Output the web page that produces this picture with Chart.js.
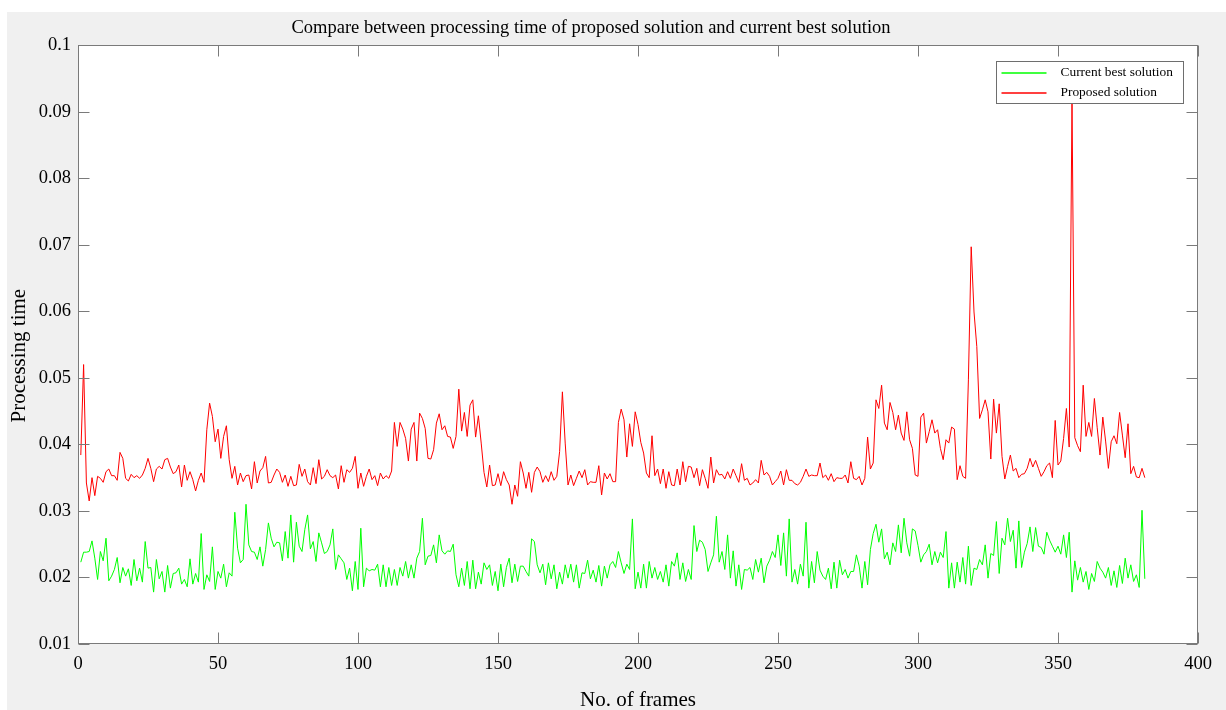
<!DOCTYPE html><html lang="en"><head><meta charset="UTF-8">
<title>Processing time</title>
<script src="https://cdn.jsdelivr.net/npm/chart.js"></script>
<style>
    body {
        margin: 0;
        background: #ffffff;
        overflow: hidden;
    }
    .wrap {
        width: 1226px;
        height: 710px;
        position: relative;
    }
</style>
</head>
<body>
<div class="wrap"><canvas id="chart"></canvas></div>
<script>
    // frame numbers 1..381
    const frames = Array.from({length: 381}, (_, i) => i + 1);

    const proposed = [
        0.0384,0.052,0.0342,0.0315,0.035,0.0323,0.0352,0.0349,0.0343,0.0359,
        0.0363,0.0353,0.0353,0.0346,0.0388,0.0379,0.0349,0.0345,0.0355,0.035,
        0.0353,0.0349,0.0354,0.0364,0.0379,0.0364,0.0344,0.0363,0.0367,0.0363,
        0.0377,0.0379,0.0366,0.0356,0.0359,0.0369,0.0336,0.0369,0.0346,0.0359,
        0.0347,0.033,0.0346,0.0357,0.0343,0.0422,0.0462,0.0442,0.0404,0.0423,
        0.0379,0.0412,0.0428,0.0377,0.0349,0.0367,0.0339,0.0357,0.0344,0.0353,
        0.0354,0.0333,0.0374,0.0342,0.036,0.0365,0.0382,0.0342,0.0343,0.0354,
        0.0363,0.0358,0.0343,0.0354,0.0337,0.0352,0.0338,0.0339,0.037,0.0352,
        0.0363,0.0344,0.0339,0.0365,0.0341,0.0377,0.0348,0.0352,0.0362,0.0353,
        0.035,0.0354,0.0333,0.0368,0.0343,0.0362,0.0358,0.0364,0.0382,0.0334,
        0.0357,0.0337,0.0352,0.0363,0.0347,0.0353,0.0338,0.0357,0.0348,0.0353,
        0.0349,0.036,0.0433,0.0397,0.0433,0.0423,0.0409,0.0375,0.0423,0.0433,
        0.0375,0.0447,0.0439,0.0424,0.0379,0.0378,0.0392,0.0432,0.0446,0.0422,
        0.0428,0.0412,0.0411,0.0394,0.0412,0.0483,0.042,0.0448,0.0412,0.0459,
        0.0467,0.0411,0.0443,0.0402,0.0358,0.0336,0.0369,0.0338,0.0339,0.0356,
        0.0338,0.0359,0.0347,0.0339,0.031,0.0339,0.0322,0.0374,0.0357,0.0334,
        0.0358,0.0328,0.0358,0.0366,0.0359,0.0343,0.0353,0.0344,0.0359,0.0346,
        0.0352,0.0389,0.0479,0.0402,0.0339,0.0354,0.0338,0.0349,0.036,0.035,
        0.0362,0.0339,0.0344,0.0343,0.0343,0.0368,0.0324,0.0357,0.0348,0.0356,
        0.0344,0.0344,0.0433,0.0453,0.0437,0.0381,0.0431,0.0397,0.0449,0.043,
        0.0403,0.0387,0.0357,0.035,0.0413,0.0353,0.0363,0.0341,0.0363,0.0334,
        0.0359,0.0339,0.0338,0.0363,0.0339,0.0374,0.0344,0.0367,0.0366,0.035,
        0.0364,0.0338,0.0362,0.0349,0.0334,0.0381,0.0342,0.0362,0.0354,0.0355,
        0.0348,0.0359,0.0349,0.0363,0.0353,0.0343,0.0371,0.0346,0.0349,0.0339,
        0.0342,0.0347,0.0342,0.0376,0.0354,0.0358,0.0352,0.0339,0.0344,0.0349,
        0.036,0.0339,0.0362,0.0346,0.0346,0.0341,0.0339,0.0343,0.0352,0.0363,
        0.0352,0.0354,0.0353,0.0353,0.0372,0.035,0.0354,0.0346,0.0356,0.0344,
        0.035,0.0349,0.0349,0.0354,0.0342,0.0374,0.0349,0.0347,0.0352,0.0339,
        0.0349,0.0411,0.0363,0.0372,0.0467,0.0454,0.0489,0.0432,0.0422,0.0463,
        0.0448,0.0422,0.0444,0.0417,0.0406,0.0449,0.0407,0.0394,0.0354,0.0352,
        0.0441,0.0447,0.0402,0.0419,0.0437,0.0417,0.0422,0.0394,0.0377,0.0407,
        0.0402,0.0426,0.0423,0.0347,0.0368,0.0352,0.0349,0.0497,0.0697,0.0599,
        0.0547,0.0439,0.0452,0.0467,0.0449,0.0378,0.0468,0.0417,0.0461,0.0382,
        0.0348,0.0367,0.0384,0.036,0.0364,0.035,0.0355,0.0356,0.0364,0.0379,
        0.0366,0.0376,0.0364,0.0352,0.0359,0.0368,0.0372,0.035,0.0436,0.0369,
        0.0375,0.0409,0.0454,0.0396,0.0917,0.041,0.0398,0.0389,0.0489,0.0412,
        0.0433,0.0412,0.0469,0.0425,0.0384,0.0441,0.0405,0.0364,0.0404,0.0413,
        0.0401,0.0448,0.0414,0.038,0.0431,0.0356,0.0367,0.0351,0.035,0.0364,0.035
    ];

    const currentBest = [
        0.0223,0.0238,0.0238,0.0239,0.0255,0.0229,0.0197,0.0239,0.0225,0.0259,
        0.0195,0.0202,0.0212,0.023,0.0192,0.0215,0.0202,0.0213,0.0188,0.0227,
        0.0195,0.0214,0.0193,0.0254,0.0214,0.0215,0.0178,0.0227,0.0198,0.0209,
        0.0178,0.0218,0.0184,0.0206,0.0207,0.0214,0.019,0.0197,0.0186,0.0228,
        0.019,0.0206,0.0193,0.0266,0.0182,0.0204,0.0194,0.0246,0.0182,0.0209,
        0.0199,0.022,0.0186,0.0207,0.0202,0.0298,0.0244,0.0222,0.0227,0.031,
        0.0249,0.0239,0.0238,0.0227,0.0246,0.0217,0.0242,0.0282,0.0259,0.0246,
        0.0253,0.0252,0.0225,0.0269,0.0229,0.0294,0.0223,0.0283,0.0247,0.0239,
        0.0272,0.0294,0.0243,0.0254,0.0224,0.0267,0.0252,0.0236,0.0239,0.0249,
        0.0273,0.0212,0.0234,0.0228,0.0222,0.0197,0.0214,0.018,0.0224,0.0182,
        0.0274,0.0186,0.0214,0.021,0.0212,0.0211,0.022,0.0186,0.0219,0.0186,
        0.0215,0.0188,0.0212,0.0188,0.0215,0.0202,0.0224,0.0199,0.0219,0.0199,
        0.0229,0.0239,0.0289,0.0219,0.0232,0.0233,0.0249,0.0222,0.0264,0.024,
        0.0235,0.024,0.0239,0.025,0.0204,0.0186,0.0214,0.0188,0.0224,0.0183,
        0.0226,0.0183,0.0208,0.019,0.0222,0.0212,0.0219,0.0188,0.0209,0.018,
        0.022,0.0186,0.0215,0.0229,0.0192,0.022,0.0194,0.0217,0.0217,0.0209,
        0.0202,0.0258,0.0254,0.0219,0.0207,0.022,0.0189,0.0222,0.0198,0.0219,
        0.0183,0.0208,0.019,0.0219,0.0199,0.022,0.0193,0.0219,0.0184,0.0207,
        0.0206,0.0226,0.0198,0.0211,0.0193,0.0218,0.0187,0.0217,0.0199,0.0219,
        0.0224,0.0215,0.0239,0.0222,0.0206,0.022,0.0212,0.0288,0.0183,0.0208,
        0.0184,0.022,0.0184,0.0224,0.0199,0.0215,0.0197,0.0209,0.0193,0.0219,
        0.0187,0.0224,0.0217,0.0237,0.0197,0.0222,0.0194,0.0212,0.0197,0.0278,
        0.0239,0.0256,0.0253,0.0242,0.0209,0.0222,0.0234,0.0292,0.0223,0.0239,
        0.0212,0.0264,0.0199,0.024,0.0187,0.0219,0.0182,0.0212,0.0211,0.0215,
        0.0197,0.0227,0.0208,0.0229,0.0192,0.0217,0.0226,0.0239,0.023,0.0264,
        0.0218,0.0267,0.0202,0.0288,0.0193,0.0212,0.019,0.022,0.0202,0.0283,
        0.0184,0.0224,0.0192,0.0239,0.0211,0.0202,0.0197,0.0214,0.0183,0.0223,
        0.0184,0.0226,0.0204,0.0212,0.0199,0.0209,0.0209,0.0234,0.0217,0.0184,
        0.0224,0.0189,0.0242,0.0266,0.028,0.0253,0.0273,0.0228,0.0238,0.0219,
        0.0252,0.0239,0.0279,0.0237,0.0289,0.0252,0.0232,0.0273,0.027,0.0248,
        0.0223,0.0234,0.0239,0.025,0.0219,0.0239,0.0222,0.0238,0.023,0.0269,
        0.0184,0.0222,0.0184,0.0223,0.0193,0.023,0.019,0.0247,0.0188,0.0214,
        0.0212,0.0227,0.0219,0.0249,0.0199,0.0236,0.0233,0.0284,0.0206,0.0259,
        0.0249,0.0289,0.0254,0.0271,0.0214,0.0285,0.0215,0.0238,0.0251,0.0276,
        0.0239,0.0275,0.0247,0.0245,0.0235,0.0268,0.0256,0.0247,0.0238,0.0247,
        0.0235,0.0264,0.023,0.0268,0.0178,0.0225,0.0196,0.0215,0.0193,0.0209,
        0.0182,0.0206,0.0194,0.0224,0.0214,0.0208,0.0199,0.0215,0.0188,0.021,
        0.0185,0.0218,0.0191,0.0229,0.0199,0.0219,0.0194,0.0204,0.0185,0.0301,0.0198
    ];

    const seriesColors = ['#00ff00', '#ff0000'];
    const yTitle = 'Processing time';
    const serif = "'Liberation Serif', 'Times New Roman', serif";

    function toPoints(values) {
        return values.map((v, i) => ({x: frames[i], y: v}));
    }

    // matlab style figure: grey surround, boxed axes, inward ticks, legend inside
    const matlabFrame = {
        id: 'matlabFrame',
        beforeDraw(chart) {
            let ctx = chart.ctx, a = chart.chartArea;
            ctx.save();
            ctx.fillStyle = '#ffffff';
            ctx.fillRect(0, 0, chart.width, chart.height);
            ctx.fillStyle = '#f0f0f0';
            ctx.fillRect(7, 12, chart.width - 7, chart.height - 12);
            ctx.fillStyle = '#ffffff';
            ctx.fillRect(a.left, a.top, a.right - a.left, a.bottom - a.top);
            ctx.restore();
        },
        afterDatasetsDraw(chart) {
            let ctx = chart.ctx, a = chart.chartArea;
            let xs = chart.scales.x, ys = chart.scales.y;
            let L = Math.round(a.left) + 0.5, R = Math.round(a.right) - 0.5;
            let T = Math.round(a.top) + 0.5, B = Math.round(a.bottom) - 0.5;
            ctx.save();
            ctx.strokeStyle = '#7a7a7a';
            ctx.lineWidth = 1;
            ctx.strokeRect(L, T, R - L, B - T);
            ctx.beginPath();
            xs.ticks.forEach(t => {
                let px = Math.round(xs.getPixelForValue(t.value)) + 0.5;
                ctx.moveTo(px, B); ctx.lineTo(px, B - 11);
                ctx.moveTo(px, T); ctx.lineTo(px, T + 11);
            });
            ys.ticks.forEach(t => {
                let py = Math.round(ys.getPixelForValue(t.value)) + 0.5;
                ctx.moveTo(L, py); ctx.lineTo(L + 11, py);
                ctx.moveTo(R, py); ctx.lineTo(R - 11, py);
            });
            ctx.stroke();

            // legend box
            let bw = 187, bh = 42;
            let bx = Math.round(a.right - 15 - bw) + 0.5, by = Math.round(a.top + 16) + 0.5;
            ctx.fillStyle = '#ffffff';
            ctx.fillRect(bx, by, bw, bh);
            ctx.strokeStyle = '#6e6e6e';
            ctx.strokeRect(bx, by, bw, bh);
            ctx.font = '13.4px ' + serif;
            ctx.textBaseline = 'middle';
            ctx.textAlign = 'left';
            chart.data.datasets.forEach((ds, i) => {
                let ly = Math.round(by + 11 + i * 20);
                ctx.lineWidth = 1.3;
                ctx.strokeStyle = seriesColors[i];
                ctx.beginPath();
                ctx.moveTo(bx + 5, ly);
                ctx.lineTo(bx + 50, ly);
                ctx.stroke();
                ctx.fillStyle = '#000000';
                ctx.fillText(ds.label, bx + 64, ly - 1);
            });

            // y axis label, centred a little below the middle as in the figure
            ctx.save();
            ctx.translate(19, (a.top + a.bottom) / 2 + 11);
            ctx.rotate(-Math.PI / 2);
            ctx.font = '21px ' + serif;
            ctx.textAlign = 'center';
            ctx.textBaseline = 'middle';
            ctx.fillStyle = '#000000';
            ctx.fillText(yTitle, 0, 0);
            ctx.restore();
            ctx.restore();
        }
    };

    new Chart(document.getElementById('chart'), {
        type: 'line',
        data: {
            datasets: [
                {label: 'Current best solution', data: toPoints(currentBest), borderColor: seriesColors[0], borderWidth: 1, pointRadius: 0, tension: 0},
                {label: 'Proposed solution', data: toPoints(proposed), borderColor: seriesColors[1], borderWidth: 1, pointRadius: 0, tension: 0}
            ]
        },
        options: {
            responsive: true,
            maintainAspectRatio: false,
            animation: false,
            // negative left padding moves the title's centre to where the figure has it
            layout: {padding: {top: 12, right: 28, left: -16, bottom: 0}},
            plugins: {
                legend: {display: false},
                tooltip: {enabled: false},
                title: {
                    display: true,
                    text: 'Compare between processing time of proposed solution and current best solution',
                    color: '#000000',
                    font: {family: serif, size: 18.5, weight: 'normal'},
                    padding: {top: 5, bottom: 6}
                }
            },
            scales: {
                x: {
                    type: 'linear',
                    min: 0,
                    max: 400,
                    ticks: {stepSize: 50, padding: 9, color: '#000000', maxRotation: 0, font: {family: serif, size: 18.5}},
                    grid: {display: false, drawTicks: false},
                    border: {display: false},
                    title: {display: true, text: 'No. of frames', color: '#000000', font: {family: serif, size: 21}, padding: {top: 0, bottom: -3}},
                    afterFit(s) { s.height = 66; }
                },
                y: {
                    min: 0.01,
                    max: 0.1,
                    ticks: {stepSize: 0.01, padding: 7, color: '#000000', font: {family: serif, size: 18.5},
                        callback: v => String(+v.toFixed(2))},
                    grid: {display: false, drawTicks: false},
                    border: {display: false},
                    afterFit(s) { s.width = 94; }
                }
            }
        },
        plugins: [matlabFrame]
    });
</script>
</body>
</html>
